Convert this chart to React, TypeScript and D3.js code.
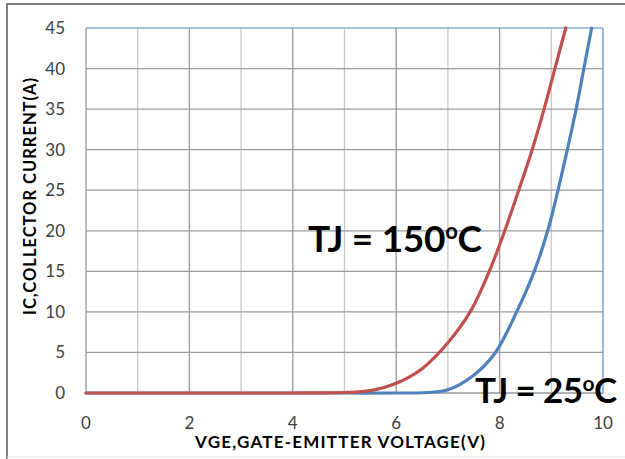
import React from "react";
import * as d3 from "d3";

const xTicks = [0, 2, 4, 6, 8, 10];
const yTicks = [0, 5, 10, 15, 20, 25, 30, 35, 40, 45];

const vge150 = [0, 1, 2, 3, 4, 4.5, 5, 5.5, 6, 6.5, 7, 7.43, 7.8, 8.1, 8.37, 8.63, 8.86, 9.07, 9.28];
const ic150 = [0, 0, 0, 0, 0, 0.01, 0.06, 0.3, 1.2, 3.0, 6.2, 10, 15, 20, 25, 30, 35, 40, 45];

const vge25 = [0, 1, 2, 3, 4, 5, 6, 6.6, 7, 7.5, 7.92, 8.33, 8.67, 8.93, 9.13, 9.31, 9.48, 9.63, 9.78];
const ic25 = [0, 0, 0, 0, 0, 0, 0, 0.06, 0.4, 2.2, 5, 10, 15, 20, 25, 30, 35, 40, 45];

const W = 625;
const H = 459;
const left = 86;
const right = 603;
const top = 28;
const bottom = 393;

export default function App() {
  const x = d3.scaleLinear().domain([0, 10]).range([left, right]);
  const y = d3.scaleLinear().domain([0, 45]).range([bottom, top]);
  const line = d3
    .line<[number, number]>()
    .x((d) => x(d[0]))
    .y((d) => Math.min(bottom, y(d[1])))
    .curve(d3.curveCatmullRom.alpha(0.5));
  const red = line(vge150.map((v, i) => [v, ic150[i]] as [number, number])) || "";
  const blue = line(vge25.map((v, i) => [v, ic25[i]] as [number, number])) || "";
  const vLines = d3.range(1, 10);
  const font = "Lato, 'Open Sans', sans-serif";

  return (
    <svg
      width={W}
      height={H}
      style={{ position: "absolute", left: 0, top: 0, background: "#fff" }}
      fontFamily={font}
    >
      <rect x={0} y={0} width={W} height={H} fill="#fff" />
      {/* outer frame */}
      <line x1={6} y1={4} x2={W} y2={4} stroke="#7f7f7f" strokeWidth={2} />
      <line x1={7} y1={4} x2={7} y2={H} stroke="#7f7f7f" strokeWidth={2} />
      <line x1={7} y1={457} x2={W} y2={457} stroke="#e6e6e6" strokeWidth={1} />

      {/* grid */}
      {vLines.map((v) => (
        <line
          key={"v" + v}
          x1={x(v)}
          x2={x(v)}
          y1={top}
          y2={bottom}
          stroke={v % 2 === 0 ? "#999" : "#c8c8c8"}
          strokeWidth={1.3}
        />
      ))}
      {yTicks.slice(1, -1).map((t) => (
        <line
          key={"h" + t}
          x1={left}
          x2={right}
          y1={y(t)}
          y2={y(t)}
          stroke="#9a9a9a"
          strokeWidth={1.3}
        />
      ))}
      <line x1={left} x2={right} y1={top} y2={top} stroke="#8eaadb" strokeWidth={1.3} />
      <line x1={right} x2={right} y1={top} y2={bottom} stroke="#6f94cc" strokeWidth={1.3} />
      <line x1={left} x2={left} y1={top} y2={bottom} stroke="#999" strokeWidth={1.3} />
      <line x1={left} x2={right} y1={bottom} y2={bottom} stroke="#999" strokeWidth={1.3} />

      {/* curves */}
      <path d={blue} fill="none" stroke="#4f81bd" strokeWidth={3.2} strokeLinecap="round" />
      <path d={red} fill="none" stroke="#c0504d" strokeWidth={3.2} strokeLinecap="round" />

      {/* y ticks */}
      {yTicks.map((t) => (
        <text
          key={"yt" + t}
          x={65}
          y={y(t)}
          dy="0.35em"
          textAnchor="end"
          fontSize={17}
          fill="#404040"
        >
          {t}
        </text>
      ))}
      {/* x ticks */}
      {xTicks.map((t) => (
        <text
          key={"xt" + t}
          x={x(t)}
          y={423}
          dy="0.35em"
          textAnchor="middle"
          fontSize={17}
          fill="#404040"
        >
          {t}
        </text>
      ))}

      <text
        x={340}
        y={448}
        textAnchor="middle"
        fontSize={17}
        fontWeight="bold"
        fill="#000"
        textLength={290}
        lengthAdjust="spacing"
      >
        VGE,GATE-EMITTER VOLTAGE(V)
      </text>
      <text
        transform={`translate(36,${196.5}) rotate(-90)`}
        textAnchor="middle"
        fontSize={16.5}
        fontWeight="bold"
        fill="#000"
        textLength={237}
        lengthAdjust="spacing"
      >
        IC,COLLECTOR CURRENT(A)
      </text>

      <text x={308} y={252} fontSize={37} fontWeight="bold" fill="#000" letterSpacing={-0.3}>
        TJ = 150
        <tspan fontSize={22} dy={-13}>o</tspan>
        <tspan dy={13}>C</tspan>
      </text>
      <text x={475} y={403} fontSize={35} fontWeight="bold" fill="#000" letterSpacing={-0.6}>
        TJ = 25
        <tspan fontSize={21} dy={-12}>o</tspan>
        <tspan dy={12}>C</tspan>
      </text>
    </svg>
  );
}
